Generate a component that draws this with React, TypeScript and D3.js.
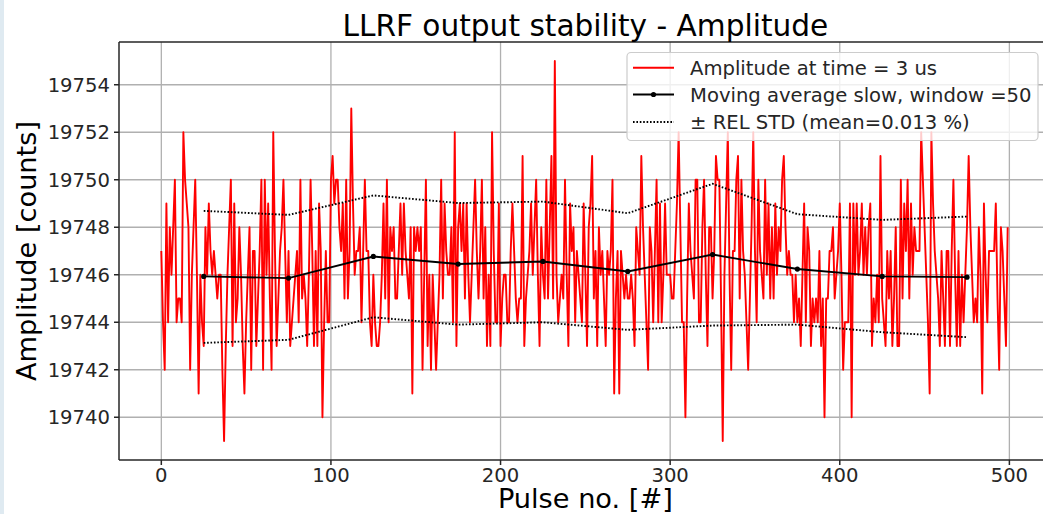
import React from "react";
import * as d3 from "d3";

// Amplitude at time = 3 us, pulses 0..499 (counts)
const amplitude: number[] = [
  19747,19744,19742,19749,19744,19748,19746,19748,19750,19744,
  19745,19745,19744,19752,19750,19749,19748,19742,19746,19748,
  19750,19746,19741,19746,19744,19743,19748,19746,19749,19747,
  19746,19747,19746,19745,19746,19746,19742,19739,19743,19746,
  19748,19750,19743,19749,19744,19745,19748,19746,19743,19741,
  19744,19746,19748,19742,19747,19747,19743,19745,19747,19750,
  19742,19750,19746,19749,19745,19742,19752,19747,19743,19745,
  19747,19748,19750,19747,19744,19747,19743,19744,19745,19746,
  19747,19744,19750,19745,19746,19745,19743,19746,19750,19747,
  19743,19747,19743,19749,19747,19740,19744,19747,19744,19744,
  19750,19751,19749,19750,19750,19748,19747,19749,19745,19750,
  19745,19747,19753,19749,19746,19747,19747,19748,19744,19747,
  19750,19747,19747,19744,19743,19746,19744,19743,19743,19744,
  19746,19749,19745,19750,19744,19748,19747,19748,19745,19745,
  19747,19749,19746,19749,19747,19746,19745,19748,19741,19748,
  19747,19748,19747,19748,19742,19746,19750,19743,19746,19742,
  19746,19744,19742,19744,19746,19750,19745,19749,19747,19746,
  19746,19748,19744,19752,19743,19748,19749,19747,19749,19745,
  19749,19746,19744,19746,19748,19750,19747,19745,19747,19750,
  19745,19748,19743,19746,19743,19752,19747,19744,19744,19749,
  19743,19745,19746,19746,19744,19744,19747,19749,19747,19745,
  19744,19745,19745,19751,19743,19745,19746,19747,19749,19746,
  19748,19750,19746,19743,19748,19746,19745,19750,19745,19748,
  19751,19745,19755,19746,19744,19745,19746,19745,19750,19746,
  19743,19749,19747,19748,19744,19747,19746,19745,19744,19749,
  19746,19743,19748,19749,19751,19745,19747,19743,19748,19746,
  19747,19745,19743,19747,19746,19747,19750,19741,19745,19747,
  19741,19747,19746,19745,19746,19745,19745,19746,19745,19743,
  19748,19747,19746,19751,19748,19746,19744,19742,19748,19747,
  19744,19747,19750,19744,19749,19744,19746,19749,19746,19746,
  19746,19745,19745,19747,19749,19752,19748,19744,19744,19740,
  19745,19749,19747,19746,19745,19750,19750,19744,19744,19748,
  19750,19746,19743,19748,19748,19745,19747,19751,19750,19750,
  19745,19739,19746,19749,19752,19746,19742,19747,19747,19750,
  19751,19745,19750,19747,19746,19744,19742,19745,19748,19752,
  19747,19744,19750,19747,19746,19745,19750,19746,19749,19745,
  19748,19745,19749,19746,19748,19747,19750,19751,19748,19746,
  19747,19746,19746,19744,19746,19744,19745,19743,19746,19749,
  19744,19748,19747,19743,19745,19744,19745,19744,19747,19743,
  19745,19740,19745,19745,19747,19747,19748,19745,19746,19747,
  19749,19746,19742,19744,19744,19744,19749,19740,19749,19746,
  19749,19746,19747,19749,19746,19748,19746,19748,19749,19743,
  19745,19744,19746,19744,19751,19745,19744,19743,19747,19745,
  19747,19743,19745,19748,19743,19743,19750,19745,19749,19747,
  19750,19745,19749,19746,19748,19747,19747,19747,19752,19750,
  19748,19746,19744,19741,19752,19749,19747,19746,19745,19743,
  19747,19745,19743,19747,19747,19743,19747,19750,19746,19743,
  19747,19743,19746,19744,19746,19748,19751,19748,19746,19744,
  19745,19744,19748,19746,19741,19749,19746,19744,19747,19747,
  19747,19747,19749,19745,19742,19748,19747,19745,19743,19748,
];

// Moving average slow (window = 50), centred on these pulses
const maPulses: number[] = [25, 75, 125, 175, 225, 275, 325, 375, 425, 475];
const maValues: number[] = [19745.93, 19745.86, 19746.77, 19746.45, 19746.56, 19746.14, 19746.85, 19746.24, 19745.93, 19745.9];
const stdUpper: number[] = [19748.69, 19748.52, 19749.34, 19749.02, 19749.08, 19748.59, 19749.83, 19748.55, 19748.31, 19748.45];
const stdLower: number[] = [19743.13, 19743.26, 19744.21, 19743.9, 19744.0, 19743.68, 19743.86, 19743.9, 19743.58, 19743.37];

const xTicks: number[] = [0, 100, 200, 300, 400, 500];
const yTicks: number[] = [19740, 19742, 19744, 19746, 19748, 19750, 19752, 19754];

const title = "LLRF output stability - Amplitude";
const xLabel = "Pulse no. [#]";
const yLabel = "Amplitude [counts]";
const legendLabels = [
  "Amplitude at time = 3 us",
  "Moving average slow, window =50",
  "\u00b1 REL STD (mean=0.013 %)",
];

const W = 1043;
const H = 514;
const FONT = "'DejaVu Sans', Verdana, sans-serif";

export default function App() {
  const left = 119, right = 1050, top = 42, bottom = 460;
  const x = d3.scaleLinear().domain([-24.95, 523.95]).range([left, right]);
  const y = d3.scaleLinear().domain([19738.2, 19755.8]).range([bottom, top]);

  const redLine = d3
    .line<number>()
    .x((_, i) => x(i))
    .y((d) => y(d))(amplitude) as string;

  const mk = (vals: number[]) =>
    d3
      .line<number>()
      .x((_, i) => x(maPulses[i]))
      .y((d) => y(d))(vals) as string;

  const dotted = "1.6,1.8";
  const lw = 1.9;

  const legX = 627, legY = 52.5, legW = 411, legH = 88;
  const rows = [67.7, 94.5, 122];

  return (
    <svg
      width={W}
      height={H}
      style={{ position: "absolute", left: 0, top: 0, background: "#ffffff" }}
      fontFamily={FONT}
    >
      <rect x={0} y={0} width={W} height={H} fill="#ffffff" />
      <rect x={0} y={0} width={4} height={H} fill="#dfeaf1" />
      <defs>
        <clipPath id="plotclip">
          <rect x={left} y={top} width={right - left} height={bottom - top} />
        </clipPath>
      </defs>

      {/* grid */}
      <g stroke="#b0b0b0" strokeWidth={1.3}>
        {xTicks.map((t) => (
          <line key={"gx" + t} x1={x(t)} x2={x(t)} y1={top} y2={bottom} />
        ))}
        {yTicks.map((t) => (
          <line key={"gy" + t} x1={left} x2={right} y1={y(t)} y2={y(t)} />
        ))}
      </g>

      <g clipPath="url(#plotclip)">
        <path d={redLine} fill="none" stroke="#ff0000" strokeWidth={lw} strokeLinejoin="round" />
        <path d={mk(stdUpper)} fill="none" stroke="#000" strokeWidth={lw} strokeDasharray={dotted} />
        <path d={mk(stdLower)} fill="none" stroke="#000" strokeWidth={lw} strokeDasharray={dotted} />
        <path d={mk(maValues)} fill="none" stroke="#000" strokeWidth={lw} />
        {maValues.map((v, i) => (
          <circle key={"m" + i} cx={x(maPulses[i])} cy={y(v)} r={2.6} fill="#000" />
        ))}
      </g>

      {/* spines */}
      <g stroke="#262626" strokeWidth={1.5} fill="none">
        <line x1={left} x2={left} y1={top} y2={bottom} />
        <line x1={left} x2={right} y1={top} y2={top} />
        <line x1={left} x2={right} y1={bottom} y2={bottom} />
      </g>

      {/* ticks */}
      <g stroke="#262626" strokeWidth={1.5}>
        {yTicks.map((t) => (
          <line key={"ty" + t} x1={left - 5} x2={left} y1={y(t)} y2={y(t)} />
        ))}
        {xTicks.map((t) => (
          <line key={"tx" + t} x1={x(t)} x2={x(t)} y1={bottom} y2={bottom + 5} />
        ))}
      </g>
      <g fontSize={19.6} fill="#262626">
        {yTicks.map((t) => (
          <text key={"ly" + t} x={110} y={y(t)} dy="0.36em" textAnchor="end">
            {t}
          </text>
        ))}
        {xTicks.map((t) => (
          <text key={"lx" + t} x={x(t)} y={482} textAnchor="middle">
            {t}
          </text>
        ))}
      </g>

      {/* labels */}
      <text x={x(250)} y={36} textAnchor="middle" fontSize={29.6} fill="#000">
        {title}
      </text>
      <text x={x(250)} y={508} textAnchor="middle" fontSize={27.2} fill="#000">
        {xLabel}
      </text>
      <text
        transform={`translate(36, ${(top + bottom) / 2}) rotate(-90)`}
        textAnchor="middle"
        fontSize={27.2}
        fill="#000"
      >
        {yLabel}
      </text>

      {/* legend */}
      <rect x={legX} y={legY} width={legW} height={legH} rx={4} fill="#ffffff" fillOpacity={0.8} stroke="#cccccc" strokeWidth={1.2} />
      <line x1={633} x2={674} y1={rows[0]} y2={rows[0]} stroke="#ff0000" strokeWidth={lw} />
      <line x1={633} x2={674} y1={rows[1]} y2={rows[1]} stroke="#000" strokeWidth={lw} />
      <circle cx={653.5} cy={rows[1]} r={2.6} fill="#000" />
      <line x1={633} x2={674} y1={rows[2]} y2={rows[2]} stroke="#000" strokeWidth={lw} strokeDasharray={dotted} />
      <g fontSize={19.6} fill="#262626">
        {legendLabels.map((l, i) => (
          <text key={"lg" + i} x={690} y={rows[i]} dy="0.36em">
            {l}
          </text>
        ))}
      </g>
    </svg>
  );
}
